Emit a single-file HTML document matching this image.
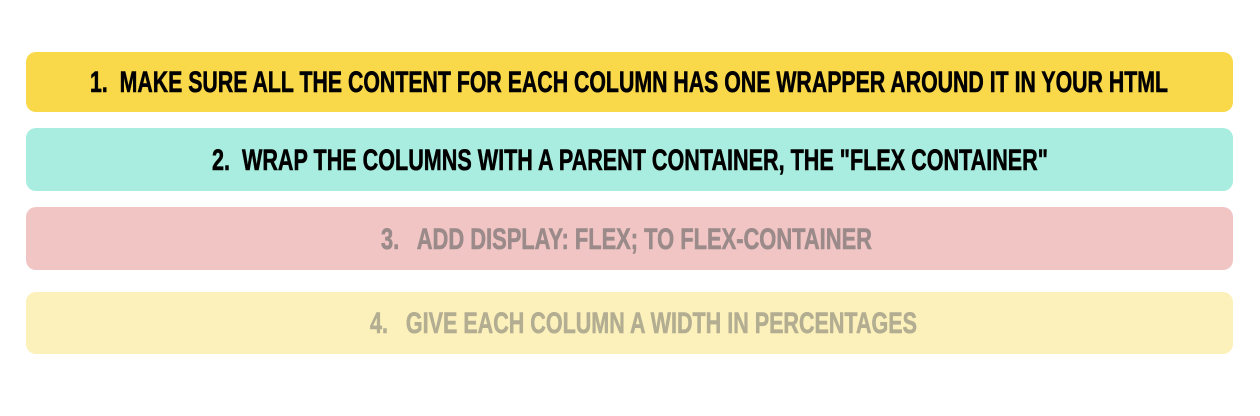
<!DOCTYPE html>
<html><head><meta charset="utf-8"><style>
body{margin:0;width:1260px;height:416px;background:#fff;position:relative;overflow:hidden}
.b{position:absolute;left:26px;width:1207px;border-radius:10px}
.t{position:absolute;white-space:nowrap;font-family:"Liberation Sans",sans-serif;font-weight:bold;font-size:30px;line-height:30px;transform-origin:0 0;letter-spacing:0;-webkit-text-stroke:0.6px currentColor}
</style></head><body>
<div class="b" style="top:52px;height:60px;background:#f9d84a"></div>
<div class="b" style="top:128px;height:63px;background:#a8ede0"></div>
<div class="b" style="top:207px;height:63px;background:#f0c5c4"></div>
<div class="b" style="top:292px;height:62px;background:#fcf1bb"></div>
<div class="t" data-l="90" data-w="1078" style="top:68px;color:#000">1.&nbsp; MAKE SURE ALL THE CONTENT FOR EACH COLUMN HAS ONE WRAPPER AROUND IT IN YOUR HTML</div>
<div class="t" data-l="212" data-w="836" style="top:146px;color:#000">2.&nbsp; WRAP THE COLUMNS WITH A PARENT CONTAINER, THE "FLEX CONTAINER"</div>
<div class="t" data-l="381" data-w="491" style="top:225px;color:#9a8a89">3.&nbsp;&nbsp; ADD DISPLAY: FLEX; TO FLEX-CONTAINER</div>
<div class="t" data-l="370" data-w="547" style="top:309px;color:#b3ad92">4.&nbsp;&nbsp; GIVE EACH COLUMN A WIDTH IN PERCENTAGES</div>
<script>
document.querySelectorAll('.t').forEach(function(e){
var w=e.getBoundingClientRect().width;var tw=+e.dataset.w;
e.style.left=e.dataset.l+'px';
e.style.transform='scale('+(tw/w)+',1)';
});
</script>
</body></html>
